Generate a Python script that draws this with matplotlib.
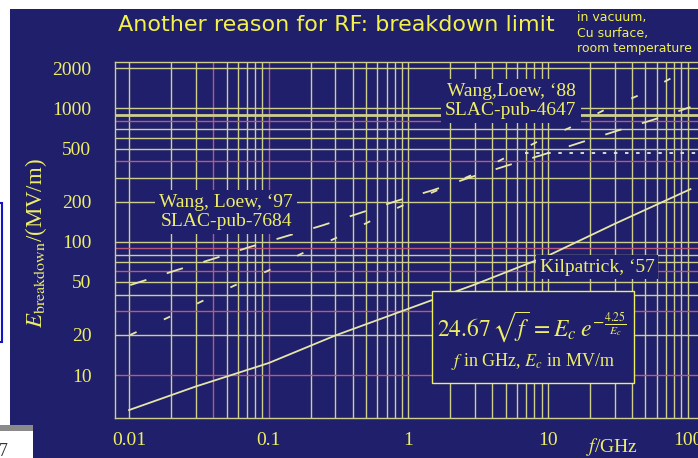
import matplotlib
matplotlib.use("Agg")
import matplotlib.pyplot as plt
from matplotlib.patches import Rectangle

# --- data ---
kil_f = [0.01, 0.03, 0.1, 0.3, 1, 3, 10, 30, 105]
kil_E = [5.46, 8.2, 12.3, 19.8, 31.4, 47.8, 78.5, 136, 248]

wl97_f = [0.0102, 0.0221, 0.0396, 0.073, 0.126, 0.245, 0.82, 1.51, 2.70, 4.99, 9.06, 16.7, 30.8, 56.0, 105]
wl97_E = [47.3, 61.4, 74.1, 91.2, 108, 133, 202, 244, 301, 370, 447, 550, 676, 818, 1024]

wl88_f = [0.0102, 0.01875, 0.0324, 0.056, 0.098, 0.170, 0.294, 0.861, 2.84, 4.91, 8.34, 14.2, 25.3, 45.2, 76.7]
wl88_E = [20.0, 26.8, 35.3, 46.6, 60.3, 80.9, 105, 182, 316, 425, 560, 713, 973, 1260, 1690]

limit_f = [6.8, 130]
limit_E = [462, 462]

x_ticks = [0.01, 0.1, 1, 10, 100]
x_labels = ["0.01", "0.1", "1", "10", "100"]
y_ticks = [10, 20, 50, 100, 200, 500, 1000, 2000]
y_labels = ["10", "20", "50", "100", "200", "500", "1000", "2000"]

hgrid = [10, 20, 30, 40, 50, 60, 70, 80, 90, 100, 200, 300, 400, 500, 600, 700, 800, 900, 1000, 2000]
hgrid_red = [10, 30, 60, 90, 400, 800]
vgrid = [m * d for d in [0.01, 0.1, 1, 10] for m in range(1, 10)] + [100]
vgrid_red = [0.04, 0.1]

NAVY = "#1f1f6c"
YEL = "#eeee66"
GRID_Y = "#cfcf8c"
GRID_R = "#b85a7a"
LINE = "#e6e6a8"
W, H = 698, 458

plt.rcParams["mathtext.fontset"] = "stix"
plt.rcParams["lines.scale_dashes"] = False
serif = ["Liberation Serif", "DejaVu Serif"]


def fx(px):
    return px / W


def fy(py):
    return 1 - py / H


fig = plt.figure(figsize=(W / 100, H / 100), dpi=100, facecolor="white")
fig.patches.append(Rectangle((fx(10), 0), 1, fy(9), transform=fig.transFigure,
                             facecolor=NAVY, edgecolor="none", zorder=-10))
fig.patches.append(Rectangle((0, 0), fx(33), fy(425), transform=fig.transFigure,
                             facecolor="white", edgecolor="none", zorder=-9))
fig.patches.append(Rectangle((0, fy(431)), fx(33), fy(425) - fy(431), transform=fig.transFigure,
                             facecolor="#8a8a8a", edgecolor="none", zorder=-8))
fig.patches.append(Rectangle((fx(-6), fy(342)), fx(8), fy(203) - fy(342), transform=fig.transFigure,
                             facecolor="none", edgecolor="#1414c8", lw=1.5, zorder=-8))
fig.text(fx(-1), fy(451), "7", color="#333333", fontsize=13, family=serif, va="center", ha="left")

ax = fig.add_axes([fx(115), fy(418), fx(702) - fx(115), fy(62) - fy(418)])
ax.set_facecolor(NAVY)
ax.set_xscale("log")
ax.set_yscale("log")
ax.set_xlim(0.00793, 127)
ax.set_ylim(4.76, 2230)

for v in vgrid:
    ax.axvline(v, color=GRID_R if v in vgrid_red else GRID_Y, lw=1.0, zorder=1)
for h in hgrid:
    ax.axhline(h, color=GRID_R if h in hgrid_red else GRID_Y,
               lw=2.0 if h == 900 else 1.0, zorder=1)

ax.plot(kil_f, kil_E, color=LINE, lw=1.3, zorder=3)
ax.plot(wl97_f, wl97_E, color=LINE, lw=1.3, linestyle=(0, (12.2, 15.4)), zorder=3)
ax.plot(wl88_f, wl88_E, color=LINE, lw=1.3, linestyle=(0, (5, 21.6)), zorder=3)
ax.plot(limit_f, limit_E, color="#e8e8e8", lw=1.3, linestyle=(0, (2.5, 5.5)), zorder=3)

ax.spines["right"].set_visible(False)
for s in ["left", "top", "bottom"]:
    ax.spines[s].set_color(GRID_Y)
    ax.spines[s].set_linewidth(1.0)

ax.set_xticks(x_ticks)
ax.set_xticklabels(x_labels)
ax.set_yticks(y_ticks)
ax.set_yticklabels(y_labels)
ax.minorticks_off()
ax.tick_params(length=0, colors=YEL, labelsize=14)
ax.tick_params(axis="y", pad=17)
ax.tick_params(axis="x", pad=10)
for lab in ax.get_xticklabels() + ax.get_yticklabels():
    lab.set_family(serif)

box = dict(boxstyle="square,pad=0.2", facecolor=NAVY, edgecolor="none")
fig.text(fx(226), fy(212), "Wang, Loew, \u201897\nSLAC-pub-7684", color=YEL, fontsize=14,
         family=serif, ha="center", va="center", linespacing=1.2, bbox=box, zorder=5)
fig.text(fx(511), fy(101), "Wang,Loew, \u201888\nSLAC-pub-4647", color=YEL, fontsize=14,
         family=serif, ha="center", va="center", linespacing=1.2, bbox=box, zorder=5)
fig.text(fx(597), fy(267), "Kilpatrick, \u201857", color=YEL, fontsize=14,
         family=serif, ha="center", va="center", bbox=box, zorder=5)

fig.patches.append(Rectangle((fx(432), fy(383)), fx(634) - fx(432), fy(291) - fy(383),
                             transform=fig.transFigure, facecolor=NAVY, edgecolor=YEL,
                             lw=1.0, zorder=4))
fig.text(fx(437), fy(327), r"$24.67\,\sqrt{f}\, = E_c\; e^{-\frac{4.25}{E_c}}$", color=YEL,
         fontsize=17, ha="left", va="center", zorder=6)
fig.text(fx(533), fy(362), r"$f$ in GHz, $E_c$ in MV/m", color=YEL, fontsize=13,
         family=serif, ha="center", va="center", zorder=6)

fig.text(fx(336), fy(25), "Another reason for RF: breakdown limit", color="#f2f24a",
         fontsize=16, family=["DejaVu Sans"], ha="center", va="center")
fig.text(fx(577), fy(33), "in vacuum,\nCu surface,\nroom temperature", color="#f2f24a",
         fontsize=9, family=["DejaVu Sans"], ha="left", va="center", linespacing=1.25)

fig.text(fx(36), fy(243), r"$E_{\mathrm{breakdown}}$/(MV/m)", color=YEL, fontsize=16.5,
         family=serif, rotation=90, ha="center", va="center")
fig.text(fx(612), fy(447), r"$f$/GHz", color=YEL, fontsize=14, family=serif,
         ha="center", va="center")

fig.savefig("out.png", dpi=100, facecolor=fig.get_facecolor())
